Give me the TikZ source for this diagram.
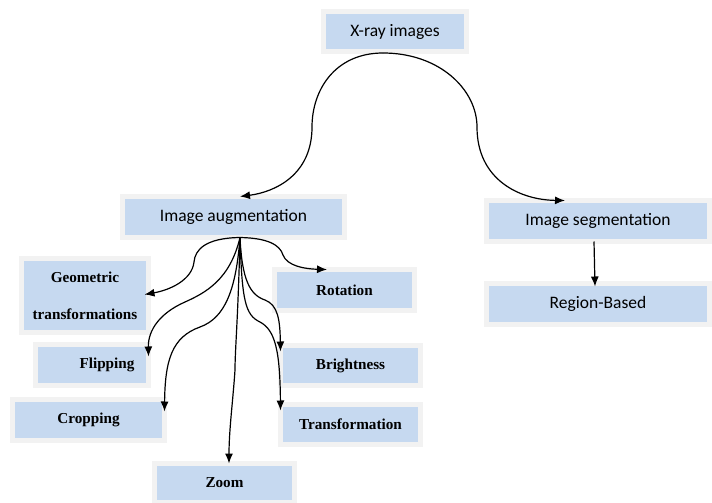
\documentclass[tikz,border=0pt]{standalone}
\usepackage{fontspec}
\newfontfamily\calfont{Carlito}
\newfontfamily\timesfont{Liberation Serif}
\usetikzlibrary{arrows.meta}
\definecolor{boxblue}{RGB}{198,217,240}
\definecolor{boxgray}{RGB}{242,242,242}

\begin{document}
\begin{tikzpicture}[
  x=1pt, y=-1pt,
  box/.style={draw=boxgray, line width=5pt, fill=boxblue, inner sep=0pt, outer sep=0pt, align=center},
  mainbox/.style={box, font=\calfont\fontsize{17.5}{21}\selectfont},
  subbox/.style={box, font=\timesfont\bfseries\fontsize{15.2}{18}\selectfont},
  arrow/.style={line width=1.2pt, -{Latex[length=10pt,width=8pt]}}
]
  \useasboundingbox (0,0) rectangle (712,503);

  % top level
  \node (xray) [mainbox, minimum width=143pt, minimum height=40pt] at (395,31.5) {X-ray images};
  \node (aug) [mainbox, minimum width=222pt, minimum height=41pt] at (233.5,217) {Image augmentation};
  \node (seg) [mainbox, minimum width=223pt, minimum height=41pt] at (598,221) {Image segmentation};
  \node (region) [mainbox, minimum width=223pt, minimum height=41pt] at (598,304) {Region-Based};

  % augmentation methods
  \node (geo) [subbox, minimum width=127pt, minimum height=74pt] at (85,295.5) {Geometric\\[19pt]transformations};
  \node (flip) [subbox, minimum width=113pt, minimum height=41pt] at (92,365) {\hspace*{30pt}Flipping};
  \node (crop) [subbox, minimum width=152pt, minimum height=41pt] at (88.5,420) {Cropping};
  \node (zoom) [subbox, minimum width=140pt, minimum height=39pt] at (224.5,483) {Zoom};
  \node (rot) [subbox, minimum width=140pt, minimum height=41pt] at (344.5,290) {Rotation};
  \node (bright) [subbox, minimum width=140pt, minimum height=40pt] at (350.5,365.5) {Brightness};
  \node (trans) [subbox, minimum width=140pt, minimum height=40pt] at (350.5,424.5) {Transformation};

  \coordinate (top) at ([xshift=-12pt,yshift=-1.5pt]xray.south);
  \coordinate (fan) at ([xshift=6.5pt]aug.south);

  % arch from the images
  \draw [arrow] (top) .. controls (335,53) and (312,90) .. (312,127)
    .. controls (312,175) and (275,192) .. ([xshift=6.5pt]aug.north);
  \draw [arrow] (top) .. controls (440,53) and (477,90) .. (477,127)
    .. controls (477,180) and (520,200) .. ([xshift=-33pt]seg.north);
  \draw [arrow] ([xshift=-4pt]seg.south) -- ([xshift=-3pt,yshift=-3pt]region.north);

  % fan below augmentation
  \draw [arrow] (fan) .. controls (268,238) and (280,245) .. (283,255)
    .. controls (287,266) and (305,269) .. ([xshift=-17.5pt]rot.north);
  \draw [arrow] (fan) .. controls (205,238) and (195,250) .. (194,262)
    .. controls (192,280) and (170,290) .. ([xshift=-4pt,yshift=1pt]geo.east);
  \draw [arrow] (fan) .. controls (230,280) and (205,293) .. (185,302)
    .. controls (160,313) and (148,330) .. ([yshift=-12pt]flip.north east);
  \draw [arrow] (fan) .. controls (236,290) and (225,318) .. (200,327)
    .. controls (172,337) and (165,360) .. ([yshift=-12pt]crop.north east);
  \draw [arrow] (fan) .. controls (238,320) and (235,350) .. (235,370)
    .. controls (233,400) and (229,430) .. ([xshift=4.5pt]zoom.north);
  \draw [arrow] (fan) .. controls (242,280) and (250,295) .. (265,300)
    .. controls (278,305) and (280,320) .. ([yshift=-6pt]bright.north west);
  \draw [arrow] (fan) .. controls (242,300) and (245,315) .. (260,322)
    .. controls (275,330) and (280,350) .. ([yshift=-6pt]trans.north west);
\end{tikzpicture}
\end{document}
